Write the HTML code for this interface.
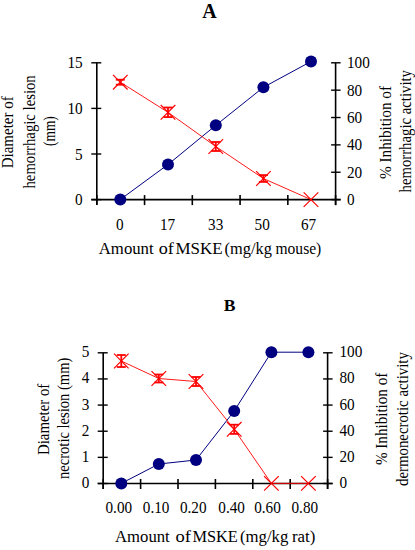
<!DOCTYPE html><html><head><meta charset="utf-8"><style>html,body{margin:0;padding:0;background:#fff;}svg{display:block;}text{font-family:"Liberation Serif",serif;fill:#000;}</style></head><body>
<svg width="415" height="550" viewBox="0 0 415 550">
<rect width="415" height="550" fill="#fff"/>
<text x="209.60" y="18.00" font-size="20" text-anchor="middle" font-weight="bold">A</text>
<line x1="96.80" y1="62.80" x2="96.80" y2="205.10" stroke="#000" stroke-width="1.6"/>
<line x1="335.60" y1="62.80" x2="335.60" y2="205.10" stroke="#000" stroke-width="1.6"/>
<line x1="91.30" y1="199.60" x2="340.60" y2="199.60" stroke="#000" stroke-width="1.6"/>
<line x1="91.30" y1="199.60" x2="101.30" y2="199.60" stroke="#000" stroke-width="1.4"/>
<line x1="91.30" y1="154.00" x2="101.30" y2="154.00" stroke="#000" stroke-width="1.4"/>
<line x1="91.30" y1="108.40" x2="101.30" y2="108.40" stroke="#000" stroke-width="1.4"/>
<line x1="91.30" y1="62.80" x2="101.30" y2="62.80" stroke="#000" stroke-width="1.4"/>
<line x1="331.10" y1="199.60" x2="340.60" y2="199.60" stroke="#000" stroke-width="1.4"/>
<line x1="331.10" y1="172.24" x2="340.60" y2="172.24" stroke="#000" stroke-width="1.4"/>
<line x1="331.10" y1="144.88" x2="340.60" y2="144.88" stroke="#000" stroke-width="1.4"/>
<line x1="331.10" y1="117.52" x2="340.60" y2="117.52" stroke="#000" stroke-width="1.4"/>
<line x1="331.10" y1="90.16" x2="340.60" y2="90.16" stroke="#000" stroke-width="1.4"/>
<line x1="331.10" y1="62.80" x2="340.60" y2="62.80" stroke="#000" stroke-width="1.4"/>
<line x1="96.80" y1="195.10" x2="96.80" y2="205.10" stroke="#000" stroke-width="1.6"/>
<line x1="144.56" y1="195.10" x2="144.56" y2="205.10" stroke="#000" stroke-width="1.6"/>
<line x1="192.32" y1="195.10" x2="192.32" y2="205.10" stroke="#000" stroke-width="1.6"/>
<line x1="240.08" y1="195.10" x2="240.08" y2="205.10" stroke="#000" stroke-width="1.6"/>
<line x1="287.84" y1="195.10" x2="287.84" y2="205.10" stroke="#000" stroke-width="1.6"/>
<line x1="335.60" y1="195.10" x2="335.60" y2="205.10" stroke="#000" stroke-width="1.6"/>
<polyline points="120.30,199.50 168.00,164.50 215.80,125.30 263.40,87.30 311.00,61.50" fill="none" stroke="#000080" stroke-width="1.0"/>
<polyline points="120.30,82.20 168.00,112.30 215.80,146.50 263.40,178.50 311.00,199.60" fill="none" stroke="#ff0000" stroke-width="0.9"/>
<line x1="120.30" y1="79.70" x2="120.30" y2="84.70" stroke="#ff0000" stroke-width="1.8"/>
<line x1="115.80" y1="79.70" x2="124.80" y2="79.70" stroke="#ff0000" stroke-width="1.8"/>
<line x1="115.80" y1="84.70" x2="124.80" y2="84.70" stroke="#ff0000" stroke-width="1.8"/>
<line x1="113.00" y1="74.90" x2="127.60" y2="89.50" stroke="#ff0000" stroke-width="1.2"/>
<line x1="113.00" y1="89.50" x2="127.60" y2="74.90" stroke="#ff0000" stroke-width="1.2"/>
<line x1="168.00" y1="107.50" x2="168.00" y2="117.10" stroke="#ff0000" stroke-width="1.8"/>
<line x1="163.50" y1="107.50" x2="172.50" y2="107.50" stroke="#ff0000" stroke-width="1.8"/>
<line x1="163.50" y1="117.10" x2="172.50" y2="117.10" stroke="#ff0000" stroke-width="1.8"/>
<line x1="160.70" y1="105.00" x2="175.30" y2="119.60" stroke="#ff0000" stroke-width="1.2"/>
<line x1="160.70" y1="119.60" x2="175.30" y2="105.00" stroke="#ff0000" stroke-width="1.2"/>
<line x1="215.80" y1="142.00" x2="215.80" y2="151.00" stroke="#ff0000" stroke-width="1.8"/>
<line x1="211.30" y1="142.00" x2="220.30" y2="142.00" stroke="#ff0000" stroke-width="1.8"/>
<line x1="211.30" y1="151.00" x2="220.30" y2="151.00" stroke="#ff0000" stroke-width="1.8"/>
<line x1="208.50" y1="139.20" x2="223.10" y2="153.80" stroke="#ff0000" stroke-width="1.2"/>
<line x1="208.50" y1="153.80" x2="223.10" y2="139.20" stroke="#ff0000" stroke-width="1.2"/>
<line x1="263.40" y1="175.10" x2="263.40" y2="181.90" stroke="#ff0000" stroke-width="1.8"/>
<line x1="258.90" y1="175.10" x2="267.90" y2="175.10" stroke="#ff0000" stroke-width="1.8"/>
<line x1="258.90" y1="181.90" x2="267.90" y2="181.90" stroke="#ff0000" stroke-width="1.8"/>
<line x1="256.10" y1="171.20" x2="270.70" y2="185.80" stroke="#ff0000" stroke-width="1.2"/>
<line x1="256.10" y1="185.80" x2="270.70" y2="171.20" stroke="#ff0000" stroke-width="1.2"/>
<line x1="303.70" y1="192.30" x2="318.30" y2="206.90" stroke="#ff0000" stroke-width="1.2"/>
<line x1="303.70" y1="206.90" x2="318.30" y2="192.30" stroke="#ff0000" stroke-width="1.2"/>
<circle cx="120.30" cy="199.50" r="6.0" fill="#000080"/>
<circle cx="168.00" cy="164.50" r="6.0" fill="#000080"/>
<circle cx="215.80" cy="125.30" r="6.0" fill="#000080"/>
<circle cx="263.40" cy="87.30" r="6.0" fill="#000080"/>
<circle cx="311.00" cy="61.50" r="6.0" fill="#000080"/>
<text x="82.70" y="205.10" font-size="16.8" text-anchor="end" font-weight="normal" textLength="7.6" lengthAdjust="spacingAndGlyphs">0</text>
<text x="82.70" y="159.50" font-size="16.8" text-anchor="end" font-weight="normal" textLength="7.6" lengthAdjust="spacingAndGlyphs">5</text>
<text x="82.70" y="113.90" font-size="16.8" text-anchor="end" font-weight="normal" textLength="15.2" lengthAdjust="spacingAndGlyphs">10</text>
<text x="82.70" y="68.30" font-size="16.8" text-anchor="end" font-weight="normal" textLength="15.2" lengthAdjust="spacingAndGlyphs">15</text>
<text x="347.00" y="205.10" font-size="16.8" text-anchor="start" font-weight="normal" textLength="7.6" lengthAdjust="spacingAndGlyphs">0</text>
<text x="347.00" y="177.74" font-size="16.8" text-anchor="start" font-weight="normal" textLength="15.2" lengthAdjust="spacingAndGlyphs">20</text>
<text x="347.00" y="150.38" font-size="16.8" text-anchor="start" font-weight="normal" textLength="15.2" lengthAdjust="spacingAndGlyphs">40</text>
<text x="347.00" y="123.02" font-size="16.8" text-anchor="start" font-weight="normal" textLength="15.2" lengthAdjust="spacingAndGlyphs">60</text>
<text x="347.00" y="95.66" font-size="16.8" text-anchor="start" font-weight="normal" textLength="15.2" lengthAdjust="spacingAndGlyphs">80</text>
<text x="347.00" y="68.30" font-size="16.8" text-anchor="start" font-weight="normal" textLength="22.8" lengthAdjust="spacingAndGlyphs">100</text>
<text x="119.80" y="230.00" font-size="16.8" text-anchor="middle" font-weight="normal" textLength="7.6" lengthAdjust="spacingAndGlyphs">0</text>
<text x="167.50" y="230.00" font-size="16.8" text-anchor="middle" font-weight="normal" textLength="15.2" lengthAdjust="spacingAndGlyphs">17</text>
<text x="215.70" y="230.00" font-size="16.8" text-anchor="middle" font-weight="normal" textLength="15.2" lengthAdjust="spacingAndGlyphs">33</text>
<text x="262.20" y="230.00" font-size="16.8" text-anchor="middle" font-weight="normal" textLength="15.2" lengthAdjust="spacingAndGlyphs">50</text>
<text x="308.50" y="230.00" font-size="16.8" text-anchor="middle" font-weight="normal" textLength="15.2" lengthAdjust="spacingAndGlyphs">67</text>
<text x="98.79" y="254.00" font-size="16" text-anchor="start" font-weight="normal" textLength="54.86" lengthAdjust="spacingAndGlyphs">Amount</text>
<text x="158.72" y="254.00" font-size="16" text-anchor="start" font-weight="normal" textLength="15.11" lengthAdjust="spacingAndGlyphs">of</text>
<text x="175.47" y="254.00" font-size="16" text-anchor="start" font-weight="normal" textLength="47.03" lengthAdjust="spacingAndGlyphs">MSKE</text>
<text x="224.58" y="254.00" font-size="16" text-anchor="start" font-weight="normal" textLength="47.24" lengthAdjust="spacingAndGlyphs">(mg/kg</text>
<text x="275.51" y="254.00" font-size="16" text-anchor="start" font-weight="normal" textLength="45.77" lengthAdjust="spacingAndGlyphs">mouse)</text>
<text transform="translate(13.00,168.30) rotate(-90)" x="0" y="0" font-size="16" textLength="72.00" lengthAdjust="spacingAndGlyphs">Diameter of</text>
<text transform="translate(34.50,188.50) rotate(-90)" x="0" y="0" font-size="16" textLength="113.20" lengthAdjust="spacingAndGlyphs">hemorrhagic lesion</text>
<text transform="translate(55.00,146.00) rotate(-90)" x="0" y="0" font-size="16" textLength="29.80" lengthAdjust="spacingAndGlyphs">(mm)</text>
<text transform="translate(390.80,179.00) rotate(-90)" x="0" y="0" font-size="16" textLength="93.00" lengthAdjust="spacingAndGlyphs">% Inhibition of</text>
<text transform="translate(411.00,192.50) rotate(-90)" x="0" y="0" font-size="16" textLength="122.50" lengthAdjust="spacingAndGlyphs">hemorrhagic activity</text>
<text x="229.70" y="311.10" font-size="17.6" text-anchor="middle" font-weight="bold">B</text>
<line x1="103.20" y1="352.80" x2="103.20" y2="489.00" stroke="#000" stroke-width="1.6"/>
<line x1="327.60" y1="352.80" x2="327.60" y2="489.00" stroke="#000" stroke-width="1.6"/>
<line x1="97.70" y1="483.50" x2="332.60" y2="483.50" stroke="#000" stroke-width="1.6"/>
<line x1="97.70" y1="483.50" x2="107.70" y2="483.50" stroke="#000" stroke-width="1.4"/>
<line x1="97.70" y1="457.36" x2="107.70" y2="457.36" stroke="#000" stroke-width="1.4"/>
<line x1="97.70" y1="431.22" x2="107.70" y2="431.22" stroke="#000" stroke-width="1.4"/>
<line x1="97.70" y1="405.08" x2="107.70" y2="405.08" stroke="#000" stroke-width="1.4"/>
<line x1="97.70" y1="378.94" x2="107.70" y2="378.94" stroke="#000" stroke-width="1.4"/>
<line x1="97.70" y1="352.80" x2="107.70" y2="352.80" stroke="#000" stroke-width="1.4"/>
<line x1="323.10" y1="483.50" x2="332.60" y2="483.50" stroke="#000" stroke-width="1.4"/>
<line x1="323.10" y1="457.36" x2="332.60" y2="457.36" stroke="#000" stroke-width="1.4"/>
<line x1="323.10" y1="431.22" x2="332.60" y2="431.22" stroke="#000" stroke-width="1.4"/>
<line x1="323.10" y1="405.08" x2="332.60" y2="405.08" stroke="#000" stroke-width="1.4"/>
<line x1="323.10" y1="378.94" x2="332.60" y2="378.94" stroke="#000" stroke-width="1.4"/>
<line x1="323.10" y1="352.80" x2="332.60" y2="352.80" stroke="#000" stroke-width="1.4"/>
<line x1="103.20" y1="479.00" x2="103.20" y2="489.00" stroke="#000" stroke-width="1.6"/>
<line x1="140.60" y1="479.00" x2="140.60" y2="489.00" stroke="#000" stroke-width="1.6"/>
<line x1="178.00" y1="479.00" x2="178.00" y2="489.00" stroke="#000" stroke-width="1.6"/>
<line x1="215.40" y1="479.00" x2="215.40" y2="489.00" stroke="#000" stroke-width="1.6"/>
<line x1="252.80" y1="479.00" x2="252.80" y2="489.00" stroke="#000" stroke-width="1.6"/>
<line x1="290.20" y1="479.00" x2="290.20" y2="489.00" stroke="#000" stroke-width="1.6"/>
<line x1="327.60" y1="479.00" x2="327.60" y2="489.00" stroke="#000" stroke-width="1.6"/>
<polyline points="121.30,483.40 158.80,464.00 196.00,460.00 234.20,411.00 271.40,352.20 308.40,352.20" fill="none" stroke="#000080" stroke-width="1.0"/>
<polyline points="121.30,361.00 158.80,378.50 196.00,381.50 234.20,429.30 271.40,483.40 308.40,483.40" fill="none" stroke="#ff0000" stroke-width="0.9"/>
<line x1="121.30" y1="355.00" x2="121.30" y2="367.00" stroke="#ff0000" stroke-width="1.8"/>
<line x1="116.80" y1="355.00" x2="125.80" y2="355.00" stroke="#ff0000" stroke-width="1.8"/>
<line x1="116.80" y1="367.00" x2="125.80" y2="367.00" stroke="#ff0000" stroke-width="1.8"/>
<line x1="114.00" y1="353.70" x2="128.60" y2="368.30" stroke="#ff0000" stroke-width="1.2"/>
<line x1="114.00" y1="368.30" x2="128.60" y2="353.70" stroke="#ff0000" stroke-width="1.2"/>
<line x1="158.80" y1="374.50" x2="158.80" y2="382.50" stroke="#ff0000" stroke-width="1.8"/>
<line x1="154.30" y1="374.50" x2="163.30" y2="374.50" stroke="#ff0000" stroke-width="1.8"/>
<line x1="154.30" y1="382.50" x2="163.30" y2="382.50" stroke="#ff0000" stroke-width="1.8"/>
<line x1="151.50" y1="371.20" x2="166.10" y2="385.80" stroke="#ff0000" stroke-width="1.2"/>
<line x1="151.50" y1="385.80" x2="166.10" y2="371.20" stroke="#ff0000" stroke-width="1.2"/>
<line x1="196.00" y1="377.00" x2="196.00" y2="386.00" stroke="#ff0000" stroke-width="1.8"/>
<line x1="191.50" y1="377.00" x2="200.50" y2="377.00" stroke="#ff0000" stroke-width="1.8"/>
<line x1="191.50" y1="386.00" x2="200.50" y2="386.00" stroke="#ff0000" stroke-width="1.8"/>
<line x1="188.70" y1="374.20" x2="203.30" y2="388.80" stroke="#ff0000" stroke-width="1.2"/>
<line x1="188.70" y1="388.80" x2="203.30" y2="374.20" stroke="#ff0000" stroke-width="1.2"/>
<line x1="234.20" y1="424.70" x2="234.20" y2="433.90" stroke="#ff0000" stroke-width="1.8"/>
<line x1="229.70" y1="424.70" x2="238.70" y2="424.70" stroke="#ff0000" stroke-width="1.8"/>
<line x1="229.70" y1="433.90" x2="238.70" y2="433.90" stroke="#ff0000" stroke-width="1.8"/>
<line x1="226.90" y1="422.00" x2="241.50" y2="436.60" stroke="#ff0000" stroke-width="1.2"/>
<line x1="226.90" y1="436.60" x2="241.50" y2="422.00" stroke="#ff0000" stroke-width="1.2"/>
<line x1="264.10" y1="476.10" x2="278.70" y2="490.70" stroke="#ff0000" stroke-width="1.2"/>
<line x1="264.10" y1="490.70" x2="278.70" y2="476.10" stroke="#ff0000" stroke-width="1.2"/>
<line x1="301.10" y1="476.10" x2="315.70" y2="490.70" stroke="#ff0000" stroke-width="1.2"/>
<line x1="301.10" y1="490.70" x2="315.70" y2="476.10" stroke="#ff0000" stroke-width="1.2"/>
<circle cx="121.30" cy="483.40" r="6.0" fill="#000080"/>
<circle cx="158.80" cy="464.00" r="6.0" fill="#000080"/>
<circle cx="196.00" cy="460.00" r="6.0" fill="#000080"/>
<circle cx="234.20" cy="411.00" r="6.0" fill="#000080"/>
<circle cx="271.40" cy="352.20" r="6.0" fill="#000080"/>
<circle cx="308.40" cy="352.20" r="6.0" fill="#000080"/>
<text x="89.30" y="488.00" font-size="16.8" text-anchor="end" font-weight="normal" textLength="7.6" lengthAdjust="spacingAndGlyphs">0</text>
<text x="89.30" y="461.86" font-size="16.8" text-anchor="end" font-weight="normal" textLength="7.6" lengthAdjust="spacingAndGlyphs">1</text>
<text x="89.30" y="435.72" font-size="16.8" text-anchor="end" font-weight="normal" textLength="7.6" lengthAdjust="spacingAndGlyphs">2</text>
<text x="89.30" y="409.58" font-size="16.8" text-anchor="end" font-weight="normal" textLength="7.6" lengthAdjust="spacingAndGlyphs">3</text>
<text x="89.30" y="383.44" font-size="16.8" text-anchor="end" font-weight="normal" textLength="7.6" lengthAdjust="spacingAndGlyphs">4</text>
<text x="89.30" y="357.30" font-size="16.8" text-anchor="end" font-weight="normal" textLength="7.6" lengthAdjust="spacingAndGlyphs">5</text>
<text x="339.50" y="488.00" font-size="16.8" text-anchor="start" font-weight="normal" textLength="7.6" lengthAdjust="spacingAndGlyphs">0</text>
<text x="339.50" y="461.86" font-size="16.8" text-anchor="start" font-weight="normal" textLength="15.2" lengthAdjust="spacingAndGlyphs">20</text>
<text x="339.50" y="435.72" font-size="16.8" text-anchor="start" font-weight="normal" textLength="15.2" lengthAdjust="spacingAndGlyphs">40</text>
<text x="339.50" y="409.58" font-size="16.8" text-anchor="start" font-weight="normal" textLength="15.2" lengthAdjust="spacingAndGlyphs">60</text>
<text x="339.50" y="383.44" font-size="16.8" text-anchor="start" font-weight="normal" textLength="15.2" lengthAdjust="spacingAndGlyphs">80</text>
<text x="339.50" y="357.30" font-size="16.8" text-anchor="start" font-weight="normal" textLength="22.8" lengthAdjust="spacingAndGlyphs">100</text>
<text x="118.80" y="513.00" font-size="16.8" text-anchor="middle" font-weight="normal" textLength="26.6" lengthAdjust="spacingAndGlyphs">0.00</text>
<text x="156.10" y="513.00" font-size="16.8" text-anchor="middle" font-weight="normal" textLength="26.6" lengthAdjust="spacingAndGlyphs">0.10</text>
<text x="193.20" y="513.00" font-size="16.8" text-anchor="middle" font-weight="normal" textLength="26.6" lengthAdjust="spacingAndGlyphs">0.20</text>
<text x="231.60" y="513.00" font-size="16.8" text-anchor="middle" font-weight="normal" textLength="26.6" lengthAdjust="spacingAndGlyphs">0.40</text>
<text x="267.50" y="513.00" font-size="16.8" text-anchor="middle" font-weight="normal" textLength="26.6" lengthAdjust="spacingAndGlyphs">0.60</text>
<text x="304.80" y="513.00" font-size="16.8" text-anchor="middle" font-weight="normal" textLength="26.6" lengthAdjust="spacingAndGlyphs">0.80</text>
<text x="115.09" y="542.00" font-size="16" text-anchor="start" font-weight="normal" textLength="54.66" lengthAdjust="spacingAndGlyphs">Amount</text>
<text x="175.61" y="542.00" font-size="16" text-anchor="start" font-weight="normal" textLength="15.43" lengthAdjust="spacingAndGlyphs">of</text>
<text x="192.49" y="542.00" font-size="16" text-anchor="start" font-weight="normal" textLength="45.28" lengthAdjust="spacingAndGlyphs">MSKE</text>
<text x="239.97" y="542.00" font-size="16" text-anchor="start" font-weight="normal" textLength="48.37" lengthAdjust="spacingAndGlyphs">(mg/kg</text>
<text x="291.98" y="542.00" font-size="16" text-anchor="start" font-weight="normal" textLength="23.46" lengthAdjust="spacingAndGlyphs">rat)</text>
<text transform="translate(48.60,455.00) rotate(-90)" x="0" y="0" font-size="16" textLength="71.30" lengthAdjust="spacingAndGlyphs">Diameter of</text>
<text transform="translate(68.50,479.00) rotate(-90)" x="0" y="0" font-size="16" textLength="121.40" lengthAdjust="spacingAndGlyphs">necrotic lesion (mm)</text>
<text transform="translate(387.20,465.00) rotate(-90)" x="0" y="0" font-size="16" textLength="92.20" lengthAdjust="spacingAndGlyphs">% Inhibition of</text>
<text transform="translate(407.70,486.00) rotate(-90)" x="0" y="0" font-size="16" textLength="133.90" lengthAdjust="spacingAndGlyphs">dermonecrotic activity</text>
</svg></body></html>
